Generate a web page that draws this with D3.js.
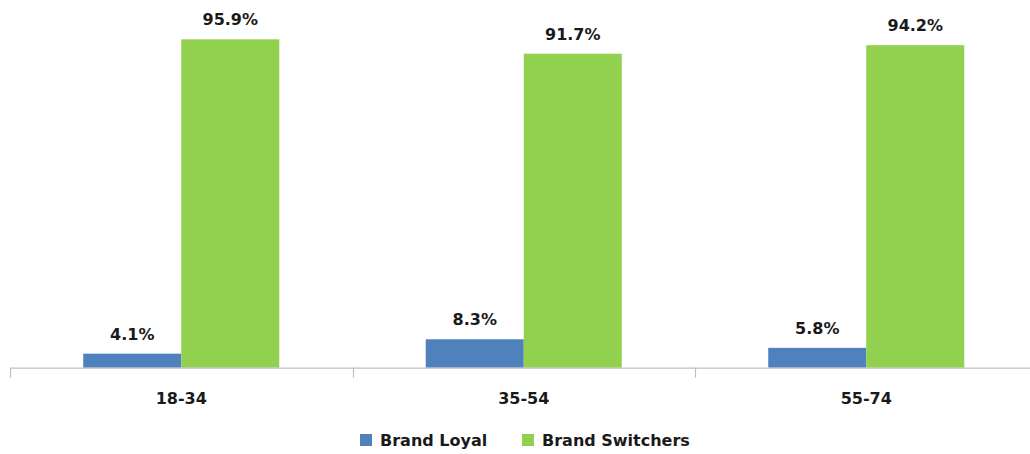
<!DOCTYPE html>
<html>
<head>
<meta charset="utf-8">
<script src="https://cdn.jsdelivr.net/npm/d3@7"></script>
<style>
  html, body { margin: 0; padding: 0; background: #fff; }
  svg { display: block; }
  text { font-family: "DejaVu Sans", sans-serif; font-weight: bold; fill: #1a1a1a; }
</style>
</head>
<body>
<svg id="chart" width="1030" height="454"></svg>
<script>
// Age groups and the share of each buying behaviour (percent)
const categories = ["18-34", "35-54", "55-74"];
const seriesNames = ["Brand Loyal", "Brand Switchers"];
const brandLoyal = [4.1, 8.3, 5.8];
const brandSwitchers = [95.9, 91.7, 94.2];
const seriesColors = ["#4f81bd", "#92d050"];

const rows = categories.map((c, i) => ({
  category: c,
  values: [brandLoyal[i], brandSwitchers[i]]
}));

const svg = d3.select("#chart");
const baseY = 367.7;
const topY = 25.3;

const x0 = d3.scaleBand()
  .domain(categories)
  .range([10, 1037.5])
  .paddingInner(0)
  .paddingOuter(0);

const x1 = d3.scaleBand()
  .domain(seriesNames)
  .range([0, x0.bandwidth()])
  .paddingInner(0)
  .paddingOuter(0.747);

const y = d3.scaleLinear().domain([0, 100]).range([baseY, topY]);

// Bars and value labels
const groups = svg.selectAll("g.group")
  .data(rows)
  .join("g")
  .attr("class", "group")
  .attr("transform", d => `translate(${x0(d.category)},0)`);

groups.selectAll("rect")
  .data(d => d.values.map((v, j) => ({ name: seriesNames[j], value: v, color: seriesColors[j] })))
  .join("rect")
  .attr("x", d => x1(d.name))
  .attr("width", x1.bandwidth())
  .attr("y", d => y(d.value))
  .attr("height", d => baseY - y(d.value))
  .attr("fill", d => d.color);

groups.selectAll("text.value")
  .data(d => d.values.map((v, j) => ({ name: seriesNames[j], value: v })))
  .join("text")
  .attr("class", "value")
  .attr("x", d => x1(d.name) + x1.bandwidth() / 2)
  .attr("y", d => y(d.value) - 14)
  .attr("text-anchor", "middle")
  .style("font-size", "16px")
  .text(d => d.value.toFixed(1) + "%");

// Category axis
const axis = d3.axisBottom(x0).tickSize(0).tickPadding(0);
const axisG = svg.append("g").attr("transform", `translate(0,${baseY})`).call(axis);
axisG.select(".domain").attr("stroke", "#bfbfbf").attr("stroke-width", 1.2);
axisG.selectAll(".tick text")
  .attr("y", 36.5)
  .attr("dy", 0)
  .style("font-size", "16px")
  .style("font-family", "'DejaVu Sans', sans-serif")
  .style("font-weight", "bold")
  .attr("fill", "#1a1a1a");

// Boundary tick marks between categories
const boundaries = categories.map(c => x0(c)).concat([x0.range()[1]]);
svg.append("g")
  .selectAll("line")
  .data(boundaries)
  .join("line")
  .attr("x1", d => Math.round(d) + 0.5)
  .attr("x2", d => Math.round(d) + 0.5)
  .attr("y1", baseY)
  .attr("y2", baseY + 10)
  .attr("stroke", "#bfbfbf")
  .attr("stroke-width", 1.2);

// Legend
const legendX = [360, 522];
const legend = svg.append("g")
  .selectAll("g")
  .data(seriesNames)
  .join("g")
  .attr("transform", (d, i) => `translate(${legendX[i]},434)`);
legend.append("rect")
  .attr("width", 12).attr("height", 12)
  .attr("fill", (d, i) => seriesColors[i]);
legend.append("text")
  .attr("x", 20)
  .attr("y", 12)
  .style("font-size", "16px")
  .text(d => d);
</script>
</body>
</html>
